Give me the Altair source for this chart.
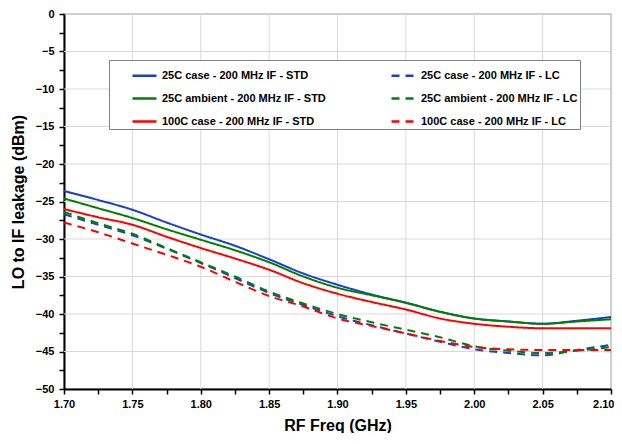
import altair as alt
import pandas as pd

freq = [1.70, 1.725, 1.75, 1.775, 1.80, 1.825, 1.85, 1.875, 1.90, 1.925, 1.95, 1.975, 2.00, 2.025, 2.05, 2.075, 2.10]

blue_std = [-23.6, -24.8, -26.1, -27.8, -29.4, -30.9, -32.7, -34.6, -36.1, -37.4, -38.5, -39.7, -40.6, -41.0, -41.3, -40.9, -40.4]
green_std = [-24.6, -25.9, -27.2, -28.7, -30.1, -31.5, -33.1, -35.0, -36.5, -37.5, -38.5, -39.7, -40.6, -41.0, -41.3, -41.0, -40.7]
red_std = [-26.0, -27.1, -28.1, -29.7, -31.2, -32.6, -34.1, -35.9, -37.3, -38.4, -39.4, -40.6, -41.3, -41.7, -41.9, -41.9, -41.9]
blue_lc = [-26.7, -28.1, -29.5, -31.3, -33.2, -35.2, -37.2, -38.8, -40.3, -41.5, -42.6, -43.7, -44.7, -45.2, -45.5, -44.8, -44.1]
green_lc = [-26.4, -27.9, -29.3, -31.2, -33.1, -35.0, -37.0, -38.6, -40.0, -41.1, -42.1, -43.1, -44.3, -44.9, -45.2, -44.9, -44.4]
red_lc = [-27.8, -29.1, -30.6, -32.1, -33.7, -35.7, -37.6, -39.0, -40.6, -41.6, -42.6, -43.6, -44.4, -44.7, -44.8, -44.8, -44.8]

# legend is laid out column by column: STD column first, then LC column
series_names = [
    "25C case - 200 MHz IF - STD",
    "25C ambient - 200 MHz IF - STD",
    "100C case - 200 MHz IF - STD",
    "25C case - 200 MHz IF - LC",
    "25C ambient - 200 MHz IF - LC",
    "100C case - 200 MHz IF - LC",
]
series_values = [blue_std, green_std, red_std, blue_lc, green_lc, red_lc]
series_colors = ["#1a3fd0", "#008000", "#ff0000", "#1a3fd0", "#008000", "#ff0000"]
series_dash = [[1, 0], [1, 0], [1, 0], [8, 6], [8, 6], [8, 6]]

x_ticks = [round(1.70 + 0.025 * i, 3) for i in range(17)]
y_ticks = [-50 + 2.5 * i for i in range(21)]
grid_x = [1.75, 1.80, 1.85, 1.90, 1.95, 2.00, 2.05]
grid_y = [-45, -40, -35, -30, -25, -20, -15, -10, -5]

rows = []
for name, vals in zip(series_names, series_values):
    for f, v in zip(freq, vals):
        rows.append({"series": name, "freq": f, "value": v})
df = pd.DataFrame(rows)

FONT = "Liberation Sans"
xscale = alt.Scale(domain=[1.70, 2.10], nice=False, zero=False)
yscale = alt.Scale(domain=[-50, 0], nice=False, zero=False)

xaxis = alt.Axis(
    values=x_ticks,
    labelExpr="round(datum.value*40) % 2 == 0 ? format(datum.value, '.2f') : ''",
    labelAlign={"condition": {"test": "datum.value >= 2.09", "value": "right"}, "value": "center"},
    labelOffset={"condition": {"test": "datum.value >= 2.09", "value": 3}, "value": 0},
    grid=False,
    domainColor="black",
    domainWidth=2,
    tickColor="black",
    tickWidth=1.5,
    tickSize=5,
    labelFont=FONT,
    labelFontSize=11,
    labelFontWeight="bold",
    labelColor="black",
    labelPadding=4,
    labelOverlap=False,
    labelFlush=False,
    title="RF Freq (GHz)",
    titleFont=FONT,
    titleFontSize=16,
    titleFontWeight="bold",
    titleColor="black",
    titlePadding=8,
)
yaxis = alt.Axis(
    values=y_ticks,
    labelExpr="round(datum.value/2.5) % 2 == 0 ? format(datum.value, 'd') : ''",
    grid=False,
    domainColor="black",
    domainWidth=2,
    tickColor="black",
    tickWidth=1.5,
    tickSize=5,
    labelFont=FONT,
    labelFontSize=11,
    labelFontWeight="bold",
    labelColor="black",
    labelPadding=5,
    labelOverlap=False,
    labelFlush=False,
    title="LO to IF leakage (dBm)",
    titleFont=FONT,
    titleFontSize=16,
    titleFontWeight="bold",
    titleColor="black",
    titlePadding=9,
)

gx = alt.Chart(pd.DataFrame({"gx": grid_x})).mark_rule(color="#d9d9d9", strokeWidth=1).encode(
    x=alt.X("gx:Q", scale=xscale, axis=xaxis)
)
gy = alt.Chart(pd.DataFrame({"gy": grid_y})).mark_rule(color="#d9d9d9", strokeWidth=1).encode(
    y=alt.Y("gy:Q", scale=yscale, axis=yaxis)
)

lines = alt.Chart(df).mark_line(strokeWidth=2, interpolate="monotone").encode(
    x=alt.X("freq:Q", scale=xscale, axis=xaxis),
    y=alt.Y("value:Q", scale=yscale, axis=yaxis),
    color=alt.Color(
        "series:N",
        scale=alt.Scale(domain=series_names, range=series_colors),
        sort=series_names,
        legend=alt.Legend(
            orient="none",
            legendX=45,
            legendY=46,
            columns=2,
            title=None,
            symbolType="stroke",
            symbolSize=576,
            symbolStrokeWidth=2.5,
            labelFont=FONT,
            labelFontSize=11,
            labelFontWeight="bold",
            labelColor="black",
            labelLimit=400,
            labelOffset=4,
            strokeColor="#808080",
            fillColor="white",
            padding=2,
            symbolOffset=20,
            columnPadding=44,
            rowPadding=4,
        ),
    ),
    strokeDash=alt.StrokeDash(
        "series:N",
        scale=alt.Scale(domain=series_names, range=series_dash),
        sort=series_names,
        legend=None,
    ),
)

chart = alt.layer(gx, gy, lines).properties(
    width=547,
    height=375,
    padding={"left": 56, "top": 6, "right": 3, "bottom": 44},
    autosize=alt.AutoSizeParams(type="none"),
    background="white",
).configure_view(stroke="#c0c0c0", strokeWidth=1.5)

chart.save("out.html", embed_options={"renderer": "svg", "actions": False})
